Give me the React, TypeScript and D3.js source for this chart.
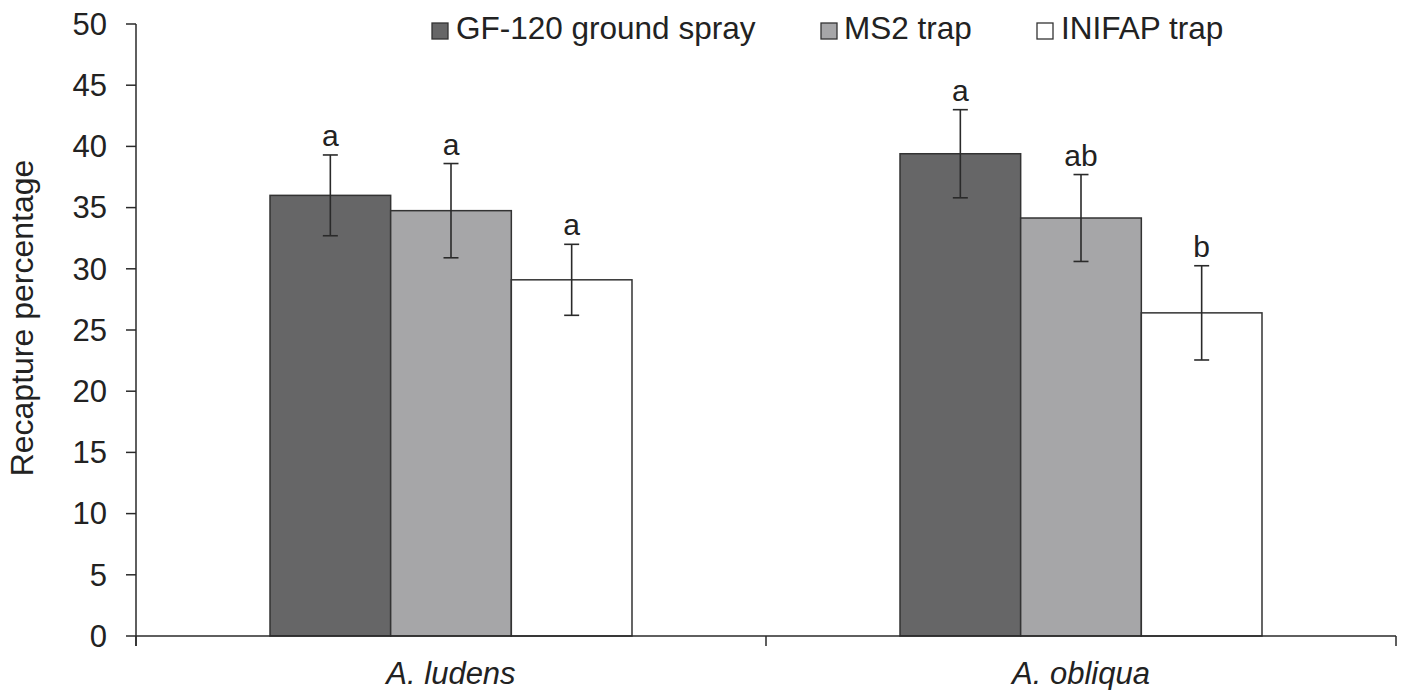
import React from "react";
import * as d3 from "d3";

const categories = ["A. ludens", "A. obliqua"];
const seriesNames = ["GF-120 ground spray", "MS2 trap", "INIFAP trap"];
const seriesColors = ["#666667", "#a6a6a8", "#ffffff"];

const gf120Values = [36.0, 39.4];
const gf120Errors = [3.3, 3.6];
const gf120Letters = ["a", "a"];

const ms2Values = [34.75, 34.15];
const ms2Errors = [3.85, 3.55];
const ms2Letters = ["a", "ab"];

const inifapValues = [29.1, 26.4];
const inifapErrors = [2.9, 3.85];
const inifapLetters = ["a", "b"];

const yTicks = [0, 5, 10, 15, 20, 25, 30, 35, 40, 45, 50];
const yTitle = "Recapture percentage";

const W = 1403;
const H = 690;
const FONT = "'Liberation Sans', Arial, Helvetica, sans-serif";
const TEXT = "#222";
const LINE = "#2a2a2a";

export default function App() {
  const series = [
    { name: seriesNames[0], values: gf120Values, errors: gf120Errors, letters: gf120Letters, color: seriesColors[0] },
    { name: seriesNames[1], values: ms2Values, errors: ms2Errors, letters: ms2Letters, color: seriesColors[1] },
    { name: seriesNames[2], values: inifapValues, errors: inifapErrors, letters: inifapLetters, color: seriesColors[2] },
  ];

  const x0 = 136;
  const x1 = 1396;
  const yTop = 24;
  const yBottom = 636;

  const y = d3.scaleLinear().domain([0, 50]).range([yBottom, yTop]);
  const xCat = d3.scaleBand<string>().domain(categories).range([x0, x1]).padding(0);
  const bw = xCat.bandwidth();
  const groupPad = bw * 0.2127;
  const xSeries = d3
    .scaleBand<string>()
    .domain(seriesNames)
    .range([groupPad, bw - groupPad])
    .padding(0);
  const barW = xSeries.bandwidth();

  const boundaries = [x0, ...categories.map((c) => (xCat(c) as number) + bw)];

  const legendItems = [
    { sx: 432, tx: 456 },
    { sx: 821, tx: 844 },
    { sx: 1037, tx: 1061 },
  ];

  return (
    <svg
      width={W}
      height={H}
      style={{ position: "absolute", left: 0, top: 0, background: "#fff" }}
      fontFamily={FONT}
    >
      <rect x={0} y={0} width={W} height={H} fill="#fff" />

      {/* bars */}
      {series.map((s) =>
        categories.map((c, i) => {
          const bx = (xCat(c) as number) + (xSeries(s.name) as number);
          const by = y(s.values[i]);
          return (
            <rect
              key={s.name + c}
              x={bx}
              y={by}
              width={barW}
              height={yBottom - by}
              fill={s.color}
              stroke="#333"
              strokeWidth={1.5}
            />
          );
        })
      )}

      {/* error bars + letters */}
      {series.map((s) =>
        categories.map((c, i) => {
          const cx = (xCat(c) as number) + (xSeries(s.name) as number) + barW / 2;
          const top = y(s.values[i] + s.errors[i]);
          const bot = y(s.values[i] - s.errors[i]);
          return (
            <g key={"e" + s.name + c} stroke={LINE} strokeWidth={1.6}>
              <line x1={cx} x2={cx} y1={top} y2={bot} />
              <line x1={cx - 7.5} x2={cx + 7.5} y1={top} y2={top} />
              <line x1={cx - 7.5} x2={cx + 7.5} y1={bot} y2={bot} />
              <text
                x={cx}
                y={top - 9}
                textAnchor="middle"
                fontSize={30}
                fill={TEXT}
                stroke="none"
              >
                {s.letters[i]}
              </text>
            </g>
          );
        })
      )}

      {/* y axis */}
      <line x1={x0} x2={x0} y1={yTop} y2={yBottom + 10} stroke={LINE} strokeWidth={1.5} />
      {yTicks.map((t) => (
        <g key={"yt" + t}>
          <line x1={x0 - 10} x2={x0} y1={y(t)} y2={y(t)} stroke={LINE} strokeWidth={1.5} />
          <text
            x={107}
            y={y(t)}
            dy="0.35em"
            textAnchor="end"
            fontSize={31}
            fill={TEXT}
          >
            {t}
          </text>
        </g>
      ))}

      {/* x axis */}
      <line x1={x0} x2={x1} y1={yBottom} y2={yBottom} stroke={LINE} strokeWidth={1.5} />
      {boundaries.map((bx, i) => (
        <line key={"xb" + i} x1={bx} x2={bx} y1={yBottom} y2={yBottom + 10} stroke={LINE} strokeWidth={1.5} />
      ))}
      {categories.map((c) => (
        <text
          key={"xl" + c}
          x={(xCat(c) as number) + bw / 2}
          y={684}
          textAnchor="middle"
          fontSize={31}
          fontStyle="italic"
          fill={TEXT}
        >
          {c}
        </text>
      ))}

      {/* y title */}
      <text
        transform={`translate(33, 318) rotate(-90)`}
        textAnchor="middle"
        fontSize={32}
        fill={TEXT}
      >
        {yTitle}
      </text>

      {/* legend */}
      {series.map((s, i) => (
        <g key={"lg" + s.name}>
          <rect
            x={legendItems[i].sx}
            y={23}
            width={16}
            height={16}
            fill={s.color}
            stroke="#333"
            strokeWidth={1.3}
          />
          <text x={legendItems[i].tx} y={39} fontSize={31.5} fill={TEXT}>
            {s.name}
          </text>
        </g>
      ))}
    </svg>
  );
}
